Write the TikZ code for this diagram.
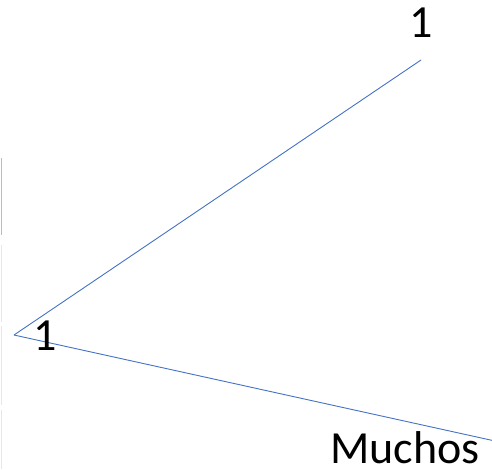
\documentclass[tikz,border=0pt]{standalone}
\usepackage{fontspec}
\setmainfont{Carlito}
\definecolor{linkblue}{HTML}{4472C4}
\definecolor{edgeblue}{HTML}{A9BEE6}
\definecolor{edgefaint}{HTML}{E6E6F2}
\tikzset{
  link/.style={draw=linkblue, line width=0.9pt},
  lbl/.style={inner sep=0pt, font=\fontsize{46}{46}\selectfont, text=black},
}
\begin{document}
\begin{tikzpicture}[x=1pt,y=-1pt]
\useasboundingbox (0,0) rectangle (492,469);
% faint edge marks
\draw[edgeblue, line width=1pt] (1,158) -- (1,235);
\draw[edgefaint, line width=1pt] (1,245) -- (1,322);
\draw[edgefaint, line width=1pt] (1,326) -- (1,405);
\draw[edgefaint, line width=1pt] (1,410) -- (1,469);
% connector points
\coordinate (v) at (14,335);
\coordinate (top) at (421,60);
\coordinate (bot) at (495,441);
\draw[link] (v) -- (top);
\draw[link] (v) -- (bot);
% labels
\node[lbl, anchor=base] (ltop) at (421,37) {1};
\node[lbl, anchor=base] (lleft) at (45,350) {1};
\node[lbl, anchor=base west] (lbot) at (330,463) {Muchos};
\end{tikzpicture}
\end{document}
